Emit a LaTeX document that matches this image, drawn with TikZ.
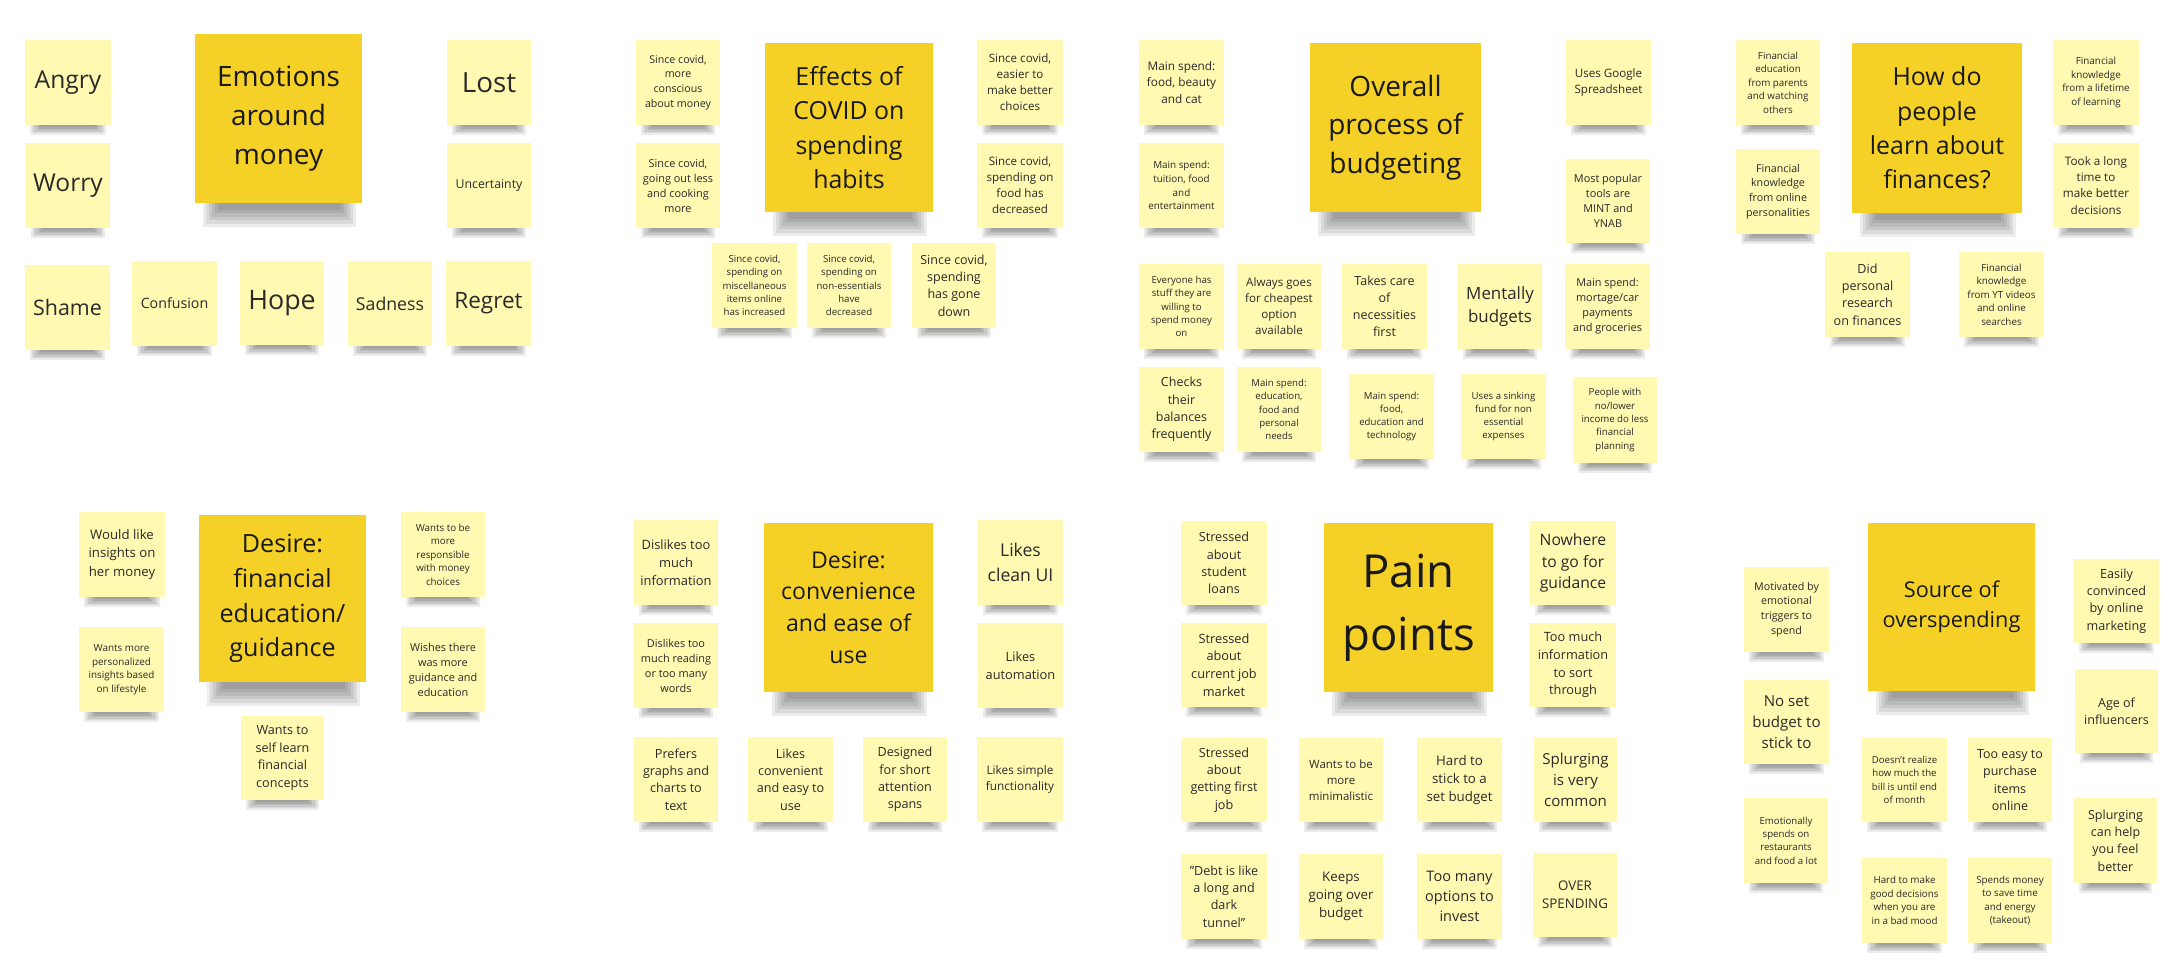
\documentclass[tikz,border=0pt]{standalone}
\usepackage{fontspec}
\setmainfont{Open Sans}
\definecolor{smallnote}{HTML}{FFF9B1}
\definecolor{bignote}{HTML}{F5D128}
\definecolor{notetext}{HTML}{2A2A2A}
\tikzset{
  stickysmall/.style={fill=smallnote, inner sep=0pt, align=center, text=notetext},
  stickybig/.style={fill=bignote, inner sep=0pt, align=center, text=black!90},
  shadowlayer/.style={fill=black, fill opacity=0.075},
}
% #1 name, #2 x1, #3 y1, #4 x2, #5 y2, #6 font size, #7 line skip, #8 text
\newcommand\stickS[8]{%
  \foreach \k in {0,...,5}{%
    \fill[shadowlayer] (#2+5+2.2*\k,#5-1) rectangle (#4-5-2.2*\k,#5+10-1.6*\k);
  }
  \node[stickysmall, minimum width={(#4-#2)*1pt}, minimum height={(#5-#3)*1pt},
        font={\fontsize{#6pt}{#7pt}\selectfont}] (#1) at ({(#2+#4)/2},{(#3+#5)/2}) {#8};
}
\newcommand\stickB[8]{%
  \foreach \k in {0,...,5}{%
    \fill[shadowlayer] (#2+8+3*\k,#5-1) rectangle (#4-6-3*\k,#5+24-3.5*\k);
  }
  \node[stickybig, minimum width={(#4-#2)*1pt}, minimum height={(#5-#3)*1pt},
        font={\fontsize{#6pt}{#7pt}\selectfont}] (#1) at ({(#2+#4)/2},{(#3+#5)/2}) {#8};
}
\begin{document}
\begin{tikzpicture}[x=1pt,y=-1pt]
\useasboundingbox (0,0) rectangle (2176,970);
\fill[white] (0,0) rectangle (2176,970);

% ---- Emotions around money
\stickS{angry}{25}{40}{111}{125}{24.6}{34}{Angry}
\stickB{emo}{195}{34}{362}{203}{28}{39}{Emotions\\around\\money}
\stickS{lost}{447}{40}{531}{125}{27.8}{38}{Lost}
\stickS{worry}{26}{143}{110}{228}{24.6}{34}{Worry}
\stickS{uncert}{447}{143}{531}{228}{12.3}{17}{Uncertainty}
\stickS{shame}{25}{265}{110}{350}{21.4}{30}{Shame}
\stickS{confusion}{132}{261}{217}{346}{14.2}{20}{Confusion}
\stickS{hope}{240}{261}{324}{345}{26.8}{37}{Hope}
\stickS{sadness}{348}{261}{432}{346}{17.7}{25}{Sadness}
\stickS{regret}{446}{261}{531}{346}{22.5}{31}{Regret}

% ---- Effects of COVID
\stickS{cv1}{636}{40}{720}{125}{10.65}{14.7}{Since covid,\\more\\conscious\\about money}
\stickB{cov}{765}{43}{933}{212}{24.9}{34.4}{Effects of\\COVID on\\spending\\habits}
\stickS{cv2}{977}{40}{1063}{125}{11.6}{16}{Since covid,\\easier to\\make better\\choices}
\stickS{cv3}{636}{143}{720}{228}{10.9}{15}{Since covid,\\going out less\\and cooking\\more}
\stickS{cv4}{977}{143}{1063}{228}{11.6}{16}{Since covid,\\spending on\\food has\\decreased}
\stickS{cv5}{712}{243}{797}{328}{9.64}{13.3}{Since covid,\\spending on\\miscellaneous\\items online\\has increased}
\stickS{cv6}{807}{243}{891}{328}{9.64}{13.3}{Since covid,\\spending on\\non-essentials\\have\\decreased}
\stickS{cv7}{912}{243}{996}{328}{12.5}{17.3}{Since covid,\\spending\\has gone\\down}

% ---- Overall process of budgeting
\stickS{bd1}{1139}{40}{1224}{125}{11.8}{16.3}{Main spend:\\food, beauty\\and cat}
\stickB{bud}{1310}{43}{1481}{212}{28}{38.7}{Overall\\process of\\budgeting}
\stickS{bd2}{1566}{40}{1651}{125}{11.6}{16}{Uses Google\\Spreadsheet}
\stickS{bd3}{1139}{143}{1224}{228}{9.86}{13.6}{Main spend:\\tuition, food\\and\\entertainment}
\stickS{bd4}{1566}{159}{1650}{243}{10.9}{15}{Most popular\\tools are\\MINT and\\YNAB}
\stickS{bd5}{1139}{264}{1224}{349}{9.64}{13.3}{Everyone has\\stuff they are\\willing to\\spend money\\on}
\stickS{bd6}{1237}{264}{1321}{349}{11.6}{16}{Always goes\\for cheapest\\option\\available}
\stickS{bd7}{1342}{264}{1427}{349}{12.5}{17.2}{Takes care\\of\\necessities\\first}
\stickS{bd8}{1458}{264}{1542}{349}{16.9}{23.3}{Mentally\\budgets}
\stickS{bd9}{1565}{264}{1650}{349}{10.9}{15}{Main spend:\\mortage/car\\payments\\and groceries}
\stickS{bd10}{1139}{367}{1224}{452}{12.5}{17.2}{Checks\\their\\balances\\frequently}
\stickS{bd11}{1237}{367}{1321}{452}{9.64}{13.3}{Main spend:\\education,\\food and\\personal\\needs}
\stickS{bd12}{1349}{374}{1434}{459}{9.64}{13.3}{Main spend:\\food,\\education and\\technology}
\stickS{bd13}{1461}{374}{1546}{459}{9.64}{13.3}{Uses a sinking\\fund for non\\essential\\expenses}
\stickS{bd14}{1573}{377}{1657}{463}{9.64}{13.3}{People with\\no/lower\\income do less\\financial\\planning}

% ---- How do people learn about finances?
\stickS{ln1}{1736}{40}{1820}{125}{9.8}{13.5}{Financial\\education\\from parents\\and watching\\others}
\stickB{lrn}{1852}{43}{2022}{213}{24.9}{34.4}{How do\\people\\learn about\\finances?}
\stickS{ln2}{2053}{40}{2139}{125}{9.86}{13.6}{Financial\\knowledge\\from a lifetime\\of learning}
\stickS{ln3}{1736}{149}{1820}{234}{10.7}{14.8}{Financial\\knowledge\\from online\\personalities}
\stickS{ln4}{2053}{143}{2139}{228}{11.7}{16.1}{Took a long\\time to\\make better\\decisions}
\stickS{ln5}{1825}{252}{1910}{337}{12.6}{17.4}{Did\\personal\\research\\on finances}
\stickS{ln6}{1959}{252}{2044}{337}{9.86}{13.6}{Financial\\knowledge\\from YT videos\\and online\\searches}

% ---- Desire: financial education/guidance
\stickS{fe1}{79}{512}{165}{597}{13.2}{18.2}{Would like\\insights on\\her money}
\stickB{fed}{199}{515}{366}{682}{25.1}{34.7}{Desire:\\financial\\education/\\guidance}
\stickS{fe2}{401}{512}{485}{597}{9.8}{13.5}{Wants to be\\more\\responsible\\with money\\choices}
\stickS{fe3}{79}{627}{164}{712}{9.86}{13.6}{Wants more\\personalized\\insights based\\on lifestyle}
\stickS{fe4}{401}{627}{485}{712}{10.9}{15}{Wishes there\\was more\\guidance and\\education}
\stickS{fe5}{241}{716}{324}{800}{12.6}{17.4}{Wants to\\self learn\\financial\\concepts}

% ---- Desire: convenience and ease of use
\stickS{cn1}{634}{520}{718}{605}{12.9}{17.8}{Dislikes too\\much\\information}
\stickB{cnv}{764}{523}{933}{692}{23.1}{31.9}{Desire:\\convenience\\and ease of\\use}
\stickS{cn2}{978}{520}{1063}{605}{17.6}{24.3}{Likes\\clean UI}
\stickS{cn3}{634}{623}{718}{708}{10.9}{15}{Dislikes too\\much reading\\or too many\\words}
\stickS{cn4}{978}{623}{1063}{708}{12.8}{17.7}{Likes\\automation}
\stickS{cn5}{634}{737}{718}{822}{12.6}{17.4}{Prefers\\graphs and\\charts to\\text}
\stickS{cn6}{748}{737}{833}{822}{12.6}{17.4}{Likes\\convenient\\and easy to\\use}
\stickS{cn7}{863}{737}{947}{822}{12.6}{17.4}{Designed\\for short\\attention\\spans}
\stickS{cn8}{977}{737}{1063}{822}{11.8}{16.3}{Likes simple\\functionality}

% ---- Pain points
\stickS{pn1}{1181}{521}{1267}{605}{12.6}{17.4}{Stressed\\about\\student\\loans}
\stickB{pain}{1324}{523}{1493}{692}{45.5}{63}{Pain\\points}
\stickS{pn2}{1530}{521}{1616}{605}{15.7}{21.7}{Nowhere\\to go for\\guidance}
\stickS{pn3}{1181}{623}{1267}{707}{12.75}{17.6}{Stressed\\about\\current job\\market}
\stickS{pn4}{1530}{623}{1616}{707}{12.75}{17.6}{Too much\\information\\to sort\\through}
\stickS{pn5}{1181}{738}{1267}{822}{12.6}{17.4}{Stressed\\about\\getting first\\job}
\stickS{pn6}{1299}{738}{1383}{822}{11.45}{15.8}{Wants to be\\more\\minimalistic}
\stickS{pn7}{1417}{738}{1502}{822}{13.3}{18.3}{Hard to\\stick to a\\set budget}
\stickS{pn8}{1534}{738}{1617}{822}{15.1}{20.8}{Splurging\\is very\\common}
\stickS{pn9}{1181}{854}{1267}{939}{12.6}{17.4}{"Debt is like\\a long and\\dark\\tunnel"}
\stickS{pn10}{1299}{854}{1383}{939}{13.3}{18.3}{Keeps\\going over\\budget}
\stickS{pn11}{1417}{854}{1502}{939}{14.5}{20}{Too many\\options to\\invest}
\stickS{pn12}{1533}{853}{1617}{937}{13.3}{18.3}{OVER\\SPENDING}

% ---- Source of overspending
\stickS{sr1}{1744}{567}{1829}{652}{10.7}{14.8}{Motivated by\\emotional\\triggers to\\spend}
\stickB{src}{1868}{523}{2035}{691}{21.7}{30}{Source of\\overspending}
\stickS{sr2}{2074}{559}{2159}{643}{12.6}{17.4}{Easily\\convinced\\by online\\marketing}
\stickS{sr3}{1744}{680}{1829}{764}{15.1}{20.8}{No set\\budget to\\stick to}
\stickS{sr4}{2075}{669}{2158}{753}{12.5}{17.3}{Age of\\influencers}
\stickS{sr5}{1744}{798}{1828}{883}{9.64}{13.3}{Emotionally\\spends on\\restaurants\\and food a lot}
\stickS{sr6}{1862}{738}{1947}{822}{9.64}{13.3}{Doesn't realize\\how much the\\bill is until end\\of month}
\stickS{sr7}{1968}{738}{2052}{822}{12.5}{17.2}{Too easy to\\purchase\\items\\online}
\stickS{sr8}{2074}{798}{2157}{883}{12.5}{17.2}{Splurging\\can help\\you feel\\better}
\stickS{sr9}{1862}{858}{1947}{943}{9.8}{13.5}{Hard to make\\good decisions\\when you are\\in a bad mood}
\stickS{sr10}{1968}{858}{2052}{943}{9.8}{13.5}{Spends money\\to save time\\and energy\\(takeout)}
\end{tikzpicture}
\end{document}
